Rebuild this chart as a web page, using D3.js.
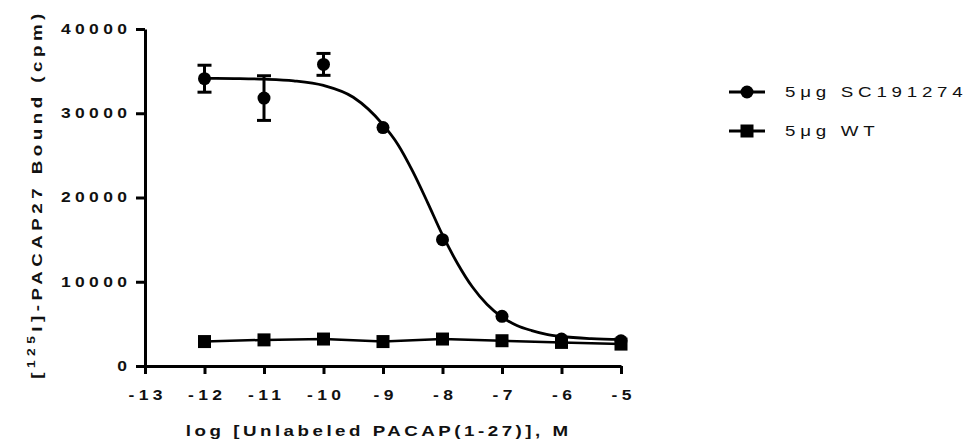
<!DOCTYPE html>
<html>
<head>
<meta charset="utf-8">
<script src="https://cdn.jsdelivr.net/npm/d3@7"></script>
<style>
  body { margin: 0; background: #fff; }
  svg text { font-family: "Liberation Sans", Arial, sans-serif; }
</style>
</head>
<body>
<div id="chart"></div>
<script>
// log concentration of unlabeled PACAP(1-27)
var logDose = [-12, -11, -10, -9, -8, -7, -6, -5];

// 5ug SC191274: mean and error (SEM)
var scMean = [34100, 31800, 35800, 28300, 15000, 5900, 3200, 3000];
var scErr  = [1600, 2650, 1300, 0, 0, 0, 0, 0];

// 5ug WT
var wtMean = [2900, 3100, 3200, 2900, 3200, 3000, 2800, 2600];

// fitted curve for SC191274
var fitX = [-12, -11.5, -11, -10.5, -10, -9.5, -9, -8.75, -8.5, -8.25, -8, -7.75, -7.5, -7.25, -7, -6.75, -6.5, -6.25, -6, -5.5, -5];
var fitY = [34150, 34120, 34050, 33850, 33300, 31900, 28650, 26300, 23100, 19400, 15550, 12200, 9400, 7300, 5800, 4800, 4200, 3750, 3500, 3250, 3150];

var xTicks = [-13, -12, -11, -10, -9, -8, -7, -6, -5];
var yTicks = [0, 10000, 20000, 30000, 40000];

var legendLabels = ["5\u03bcg SC191274", "5\u03bcg WT"];

var W = 972, H = 444;
var plot = {left: 145, right: 621, top: 29, bottom: 366};
var stretch = 1.25;   // text in the original is drawn a bit wide

var svg = d3.select("#chart").append("svg")
    .attr("width", W)
    .attr("height", H);

var x = d3.scaleLinear().domain([-13, -5]).range([plot.left, plot.right]);
var y = d3.scaleLinear().domain([0, 40000]).range([plot.bottom, plot.top]);

var plain = function (d) { return String(d); };

// axes
var xAxis = svg.append("g")
    .attr("transform", "translate(0," + plot.bottom + ")")
    .call(d3.axisBottom(x).tickValues(xTicks).tickFormat(plain)
        .tickSize(8).tickPadding(16).tickSizeOuter(0));

var yAxis = svg.append("g")
    .attr("transform", "translate(" + plot.left + ",0)")
    .call(d3.axisLeft(y).tickValues(yTicks).tickFormat(plain)
        .tickSize(9).tickPadding(9).tickSizeOuter(0));

var tickLS = 3.5;
[xAxis, yAxis].forEach(function (a) {
    a.select(".domain").attr("stroke", "#000").attr("stroke-width", 3);
    a.selectAll(".tick line").attr("stroke", "#000").attr("stroke-width", 3);
    a.selectAll(".tick text")
        .attr("fill", "#111")
        .attr("transform", "scale(" + stretch + ",1)")
        .style("font-size", "14px")
        .style("font-weight", "bold")
        .style("letter-spacing", tickLS + "px");
});
// compensate trailing letter-spacing and the stretch
xAxis.selectAll(".tick text").attr("dx", (tickLS / 2) + "px");
yAxis.selectAll(".tick text").attr("x", -18 / stretch).attr("dx", tickLS + "px");

// fitted curve
var curve = d3.line()
    .x(function (d, i) { return x(fitX[i]); })
    .y(function (d) { return y(d); })
    .curve(d3.curveMonotoneX);

svg.append("path")
    .datum(fitY)
    .attr("d", curve)
    .attr("fill", "none")
    .attr("stroke", "#000")
    .attr("stroke-width", 2.8);

// WT connecting line
var wtLine = d3.line()
    .x(function (d, i) { return x(logDose[i]); })
    .y(function (d) { return y(d); });

svg.append("path")
    .datum(wtMean)
    .attr("d", wtLine)
    .attr("fill", "none")
    .attr("stroke", "#000")
    .attr("stroke-width", 2.5);

// error bars for SC191274
var capW = 7;
var eb = svg.append("g").attr("stroke", "#000").attr("stroke-width", 3);
scMean.forEach(function (m, i) {
    if (!scErr[i]) return;
    var cx = x(logDose[i]), y1 = y(m + scErr[i]), y2 = y(m - scErr[i]);
    eb.append("line").attr("x1", cx).attr("x2", cx).attr("y1", y1).attr("y2", y2);
    eb.append("line").attr("x1", cx - capW).attr("x2", cx + capW).attr("y1", y1).attr("y2", y1);
    eb.append("line").attr("x1", cx - capW).attr("x2", cx + capW).attr("y1", y2).attr("y2", y2);
});

// SC191274 circles
svg.append("g").selectAll("circle")
    .data(scMean)
    .enter().append("circle")
    .attr("cx", function (d, i) { return x(logDose[i]); })
    .attr("cy", function (d) { return y(d); })
    .attr("r", 6.5)
    .attr("fill", "#000");

// WT squares
var sq = 13;
svg.append("g").selectAll("rect")
    .data(wtMean)
    .enter().append("rect")
    .attr("x", function (d, i) { return x(logDose[i]) - sq / 2; })
    .attr("y", function (d) { return y(d) - sq / 2; })
    .attr("width", sq)
    .attr("height", sq)
    .attr("fill", "#000");

// axis titles
var titleLS = 2.8;
svg.append("text")
    .attr("transform", "translate(" + ((plot.left + plot.right) / 2 - 6) + ",436) scale(" + stretch + ",1)")
    .attr("text-anchor", "middle")
    .attr("dx", (titleLS / 2) + "px")
    .attr("fill", "#111")
    .style("font-size", "15px")
    .style("font-weight", "bold")
    .style("letter-spacing", titleLS + "px")
    .text("log [Unlabeled PACAP(1-27)], M");

var yTitle = svg.append("text")
    .attr("transform", "translate(42,194) rotate(-90) scale(" + stretch + ",1)")
    .attr("text-anchor", "middle")
    .attr("fill", "#111")
    .style("font-size", "15px")
    .style("font-weight", "bold")
    .style("letter-spacing", "3.6px");
yTitle.append("tspan").text("[");
yTitle.append("tspan").attr("dy", "-7").style("font-size", "11px").text("125");
yTitle.append("tspan").attr("dy", "7").text("I]-PACAP27 Bound (cpm)");

// legend
var leg = svg.append("g").attr("transform", "translate(729,92)");
legendLabels.forEach(function (lab, i) {
    var g = leg.append("g").attr("transform", "translate(0," + (i * 39) + ")");
    g.append("line").attr("x1", 0).attr("x2", 36).attr("y1", 0).attr("y2", 0)
        .attr("stroke", "#000").attr("stroke-width", 3);
    if (i === 0) {
        g.append("circle").attr("cx", 18).attr("cy", 0).attr("r", 6.5).attr("fill", "#000");
    } else {
        g.append("rect").attr("x", 18 - sq / 2).attr("y", -sq / 2).attr("width", sq).attr("height", sq).attr("fill", "#000");
    }
    g.append("text")
        .attr("transform", "translate(56,5) scale(" + stretch + ",1)")
        .attr("fill", "#111")
        .style("font-size", "15px")
        .style("letter-spacing", "3.8px")
        .text(lab);
});
</script>
</body>
</html>
